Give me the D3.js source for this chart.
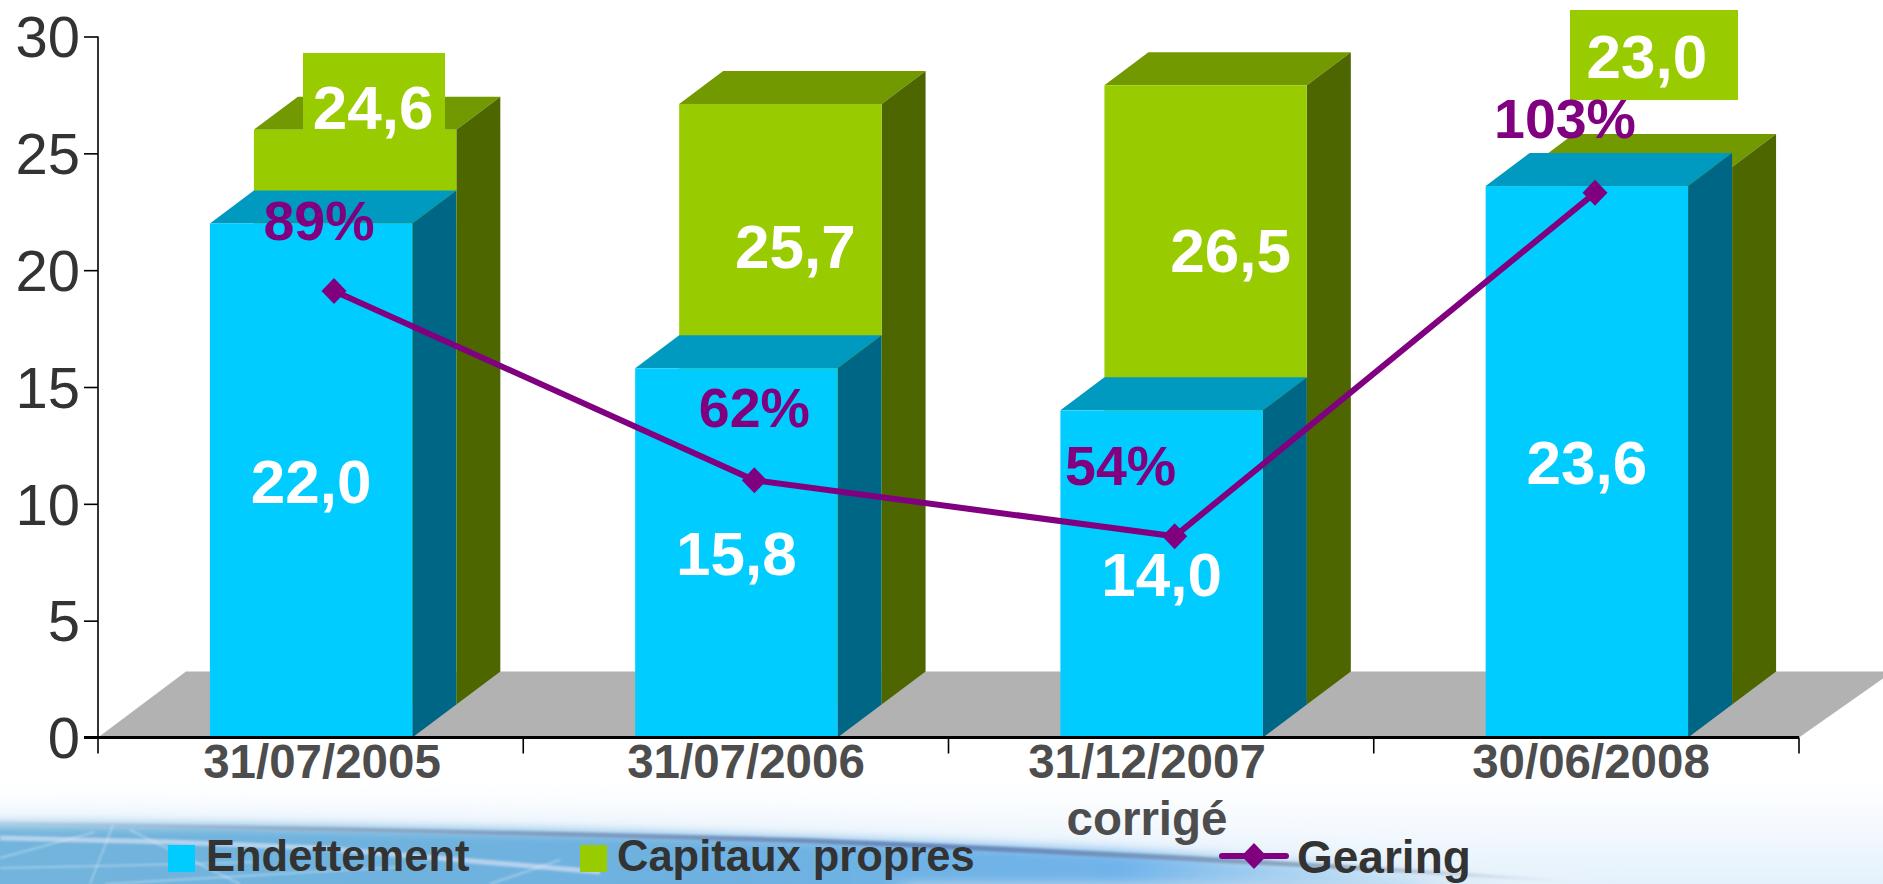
<!DOCTYPE html>
<html><head><meta charset="utf-8">
<script src="https://cdnjs.cloudflare.com/ajax/libs/d3/7.8.5/d3.min.js"></script>
<style>html,body{margin:0;padding:0;background:#fff;overflow:hidden}svg{display:block}text{font-family:"Liberation Sans",Arial,sans-serif}</style>
</head><body><svg id="c" width="1883" height="884"></svg>
<script>
const categories=["31/07/2005","31/07/2006","31/12/2007","30/06/2008"];
const categorySub=["","","corrigé",""];
const endettement=[22.0,15.8,14.0,23.6];
const capitaux=[24.6,25.7,26.5,23.0];
const gearing=[89,62,54,103];
const yTicks=[0,5,10,15,20,25,30];
const fmt=v=>v.toFixed(1).replace(".",",");

const W=1883,H=884,x0=98,x1=1799,y0=737.5,y30=36.5;
const dx=44,dy=33;
const svg=d3.select("#c");
const defs=svg.append("defs");

// background
const bgG=defs.append("linearGradient").attr("id","bg").attr("x1",0).attr("y1",0).attr("x2",0).attr("y2",1);
[[0,"#ffffff"],[.3,"#ffffff"],[.6,"#f4f9fe"],[1,"#e4f1fc"]].forEach(s=>bgG.append("stop").attr("offset",s[0]).attr("stop-color",s[1]));
const bandG=defs.append("linearGradient").attr("id","band").attr("gradientUnits","userSpaceOnUse").attr("x1",0).attr("y1",0).attr("x2",1560).attr("y2",0);
[[0,"#72b4dc",1],[.45,"#6eb1e0",1],[.72,"#6ab0ea",.95],[.86,"#9ccbee",.65],[1,"#cfe4f5",0]].forEach(s=>bandG.append("stop").attr("offset",s[0]).attr("stop-color",s[1]).attr("stop-opacity",s[2]));
const streakG=defs.append("linearGradient").attr("id","streak").attr("gradientUnits","userSpaceOnUse").attr("x1",0).attr("y1",0).attr("x2",1570).attr("y2",0);
[[0,"#a8bdd0",.35],[.2,"#8c9fb8",.75],[.6,"#5f7fb5",.9],[.85,"#7f93ad",.7],[1,"#a0b4c8",0]].forEach(s=>streakG.append("stop").attr("offset",s[0]).attr("stop-color",s[1]).attr("stop-opacity",s[2]));
const mk=(id,sd)=>defs.append("filter").attr("id",id).attr("x","-20%").attr("y","-200%").attr("width","140%").attr("height","500%").append("feGaussianBlur").attr("stdDeviation",sd);
mk("b1","12 6");mk("b2","4 1.2");mk("b3","1 1");mk("b4","30 12");
const bg=svg.append("g");
bg.append("rect").attr("y",740).attr("width",W).attr("height",144).attr("fill","url(#bg)");
bg.append("path").attr("d","M-40,815 C300,812 700,820 1120,838 L1560,875 L1560,900 L-40,900Z").attr("fill","#eaf3fb").attr("filter","url(#b4)");
bg.append("path").attr("d","M-40,824 C300,824 700,832 1100,850 C1300,860 1450,872 1560,884 L1560,910 L-40,910Z").attr("fill","url(#band)").attr("filter","url(#b1)");
bg.append("path").attr("d","M900,884 C1050,884 1250,884 1420,884 L1420,900 L900,900Z").attr("fill","#bcd9ef").attr("filter","url(#b1)");
bg.append("path").attr("d","M-40,822 C200,824 500,830 800,838 C1000,846 1300,860 1570,880 L1570,883 C1300,866 1000,851 800,843 C500,834 200,828 -40,825Z").attr("fill","url(#streak)").attr("filter","url(#b2)");
const grid=bg.append("g").attr("stroke","#ffffff").attr("stroke-opacity",.3).attr("stroke-width",2).attr("fill","none").attr("filter","url(#b3)");
["M0,858 L95,832","M113,825 L90,884","M130,830 L240,884","M0,868 L100,866 L260,862","M105,884 L400,867","M490,884 L560,860"].forEach(d=>grid.append("path").attr("d",d));
bg.append("path").attr("d","M0,838 L170,842 L320,848 L600,872").attr("fill","none").attr("stroke","#e4e8f6").attr("stroke-opacity",.6).attr("stroke-width",5).attr("filter","url(#b3)");

// scales
const x=d3.scaleBand().domain(categories).range([x0+.5,x1+.5]).paddingInner(.524).paddingOuter(.262);
const y=d3.scaleLinear().domain([0,30]).range([y0,y30]);
const yG=d3.scaleLinear().domain([25.3,125.3]).range([y0,y30]);
const xG=d3.scalePoint().domain(categories).range([334,1595]);
const bw=x.bandwidth();

// floor
svg.append("path").attr("d",`M${x0},${y0}L${x0+2*dx},${y0-2*dy}H${W+10}L${x1},${y0}Z`).attr("fill","#b2b2b2");

function box(g,xl,base,top,c){
  const xr=xl+bw;
  g.append("path").attr("d",`M${xl},${top}L${xl+dx},${top-dy}H${xr+dx}L${xr},${top}Z`).attr("fill",c[1]);
  g.append("path").attr("d",`M${xr},${top}L${xr+dx},${top-dy}V${base-dy}L${xr},${base}Z`).attr("fill",c[2]);
  g.append("rect").attr("x",xl).attr("y",top).attr("width",bw).attr("height",base-top).attr("fill",c[0]);
}
const green=["#99cc00","#739900","#4d6600"],blue=["#00ccff","#0099bf","#006685"];
const gG=svg.append("g"),gB=svg.append("g");
categories.forEach((c,i)=>{
  box(gG,x(c)+dx,y0-dy,y(capitaux[i])-dy,green);
  box(gB,x(c),y0,y(endettement[i]),blue);
});

// axes
const axY=svg.append("g").attr("transform",`translate(${x0},0)`).call(d3.axisLeft(y).tickValues(yTicks).tickSize(14).tickPadding(4));
axY.select(".domain").attr("d",`M0,${y30}V${y0}`).attr("stroke","#000").attr("stroke-width",1.6);
axY.selectAll("line").attr("stroke","#000").attr("stroke-width",1.6);
axY.selectAll("text").attr("font-size",58).attr("font-family",'"Liberation Sans"').attr("fill","#333").attr("dy",".35em");
const tickPos=d3.range(categories.length+1).map(i=>x0+i*x.step());
const axX=svg.append("g");
axX.append("line").attr("x1",x0-14).attr("x2",x1).attr("y1",y0).attr("y2",y0).attr("stroke","#000").attr("stroke-width",3);
axX.selectAll(".t").data(tickPos).join("line").attr("x1",d=>d).attr("x2",d=>d).attr("y1",y0).attr("y2",y0+16).attr("stroke","#000").attr("stroke-width",1.6);
const labelCx=[322,746,1147,1591];
const lab=axX.selectAll(".l").data(categories).join("g");
lab.append("text").attr("x",(d,i)=>labelCx[i]).attr("y",778).attr("text-anchor","middle").attr("font-size",47.5).attr("font-weight","bold").attr("fill","#4d4d4d").text(d=>d);
lab.append("text").attr("x",(d,i)=>labelCx[i]).attr("y",835).attr("text-anchor","middle").attr("font-size",47.5).attr("font-weight","bold").attr("fill","#4d4d4d").text((d,i)=>categorySub[i]);

// label boxes behind capitaux values
const labelBoxes=[{i:0,x:303,y:53,w:142,h:77},{i:3,x:1570,y:10,w:168,h:90}];
svg.selectAll(".lb").data(labelBoxes).join("rect").attr("x",d=>d.x).attr("y",d=>d.y).attr("width",d=>d.w).attr("height",d=>d.h).attr("fill","#99cc00");

// values
const vStyle=s=>s.attr("text-anchor","middle").attr("font-weight","bold").attr("font-size",62).attr("fill","#fff").attr("dy",".36em");
svg.selectAll(".vb").data(endettement).join("text").call(vStyle).attr("x",(d,i)=>x(categories[i])+bw/2).attr("y",d=>y(d/2)).text(fmt);
const capNudge=[[18,-310],[15,-159],[25,-145],[16,-380]];
svg.selectAll(".vg").data(capitaux).join("text").call(vStyle).attr("x",(d,i)=>x(categories[i])+dx+bw/2+capNudge[i][0]).attr("y",(d,i)=>y(d/2)-dy+capNudge[i][1]).text(fmt);

// gearing
const purple="#800080";
const line=d3.line().x((d,i)=>xG(categories[i])).y(d=>yG(d));
svg.append("path").attr("d",line(gearing)).attr("fill","none").attr("stroke",purple).attr("stroke-width",6);
const diamond="M0,-13L12.5,0L0,13L-12.5,0Z";
svg.selectAll(".m").data(gearing).join("path").attr("d",diamond).attr("fill",purple).attr("transform",(d,i)=>`translate(${xG(categories[i])},${yG(d)})`);
const gNudge=[[-15,-51],[0,-53],[-54,-51],[-30,-55]];
svg.selectAll(".gl").data(gearing).join("text").attr("x",(d,i)=>xG(categories[i])+gNudge[i][0]).attr("y",(d,i)=>yG(d)+gNudge[i][1]).attr("text-anchor","middle").attr("font-size",55.5).attr("font-weight","bold").attr("fill",purple).text(d=>d+"%");

// legend
const legend=svg.append("g").attr("font-size",43.5).attr("font-weight","bold").attr("fill","#333");
legend.append("rect").attr("x",168).attr("y",845).attr("width",27).attr("height",27).attr("fill","#00ccff");
legend.append("text").attr("x",206).attr("y",871).text("Endettement");
legend.append("rect").attr("x",580).attr("y",845).attr("width",27).attr("height",27).attr("fill","#99cc00");
legend.append("text").attr("x",617).attr("y",871).text("Capitaux propres");
legend.append("line").attr("x1",1222).attr("x2",1286).attr("y1",856).attr("y2",856).attr("stroke",purple).attr("stroke-width",6).attr("stroke-linecap","round");
legend.append("path").attr("d",diamond).attr("fill",purple).attr("transform","translate(1254,856)");
legend.append("text").attr("x",1297).attr("y",873).attr("font-size",46).text("Gearing");
</script></body></html>
